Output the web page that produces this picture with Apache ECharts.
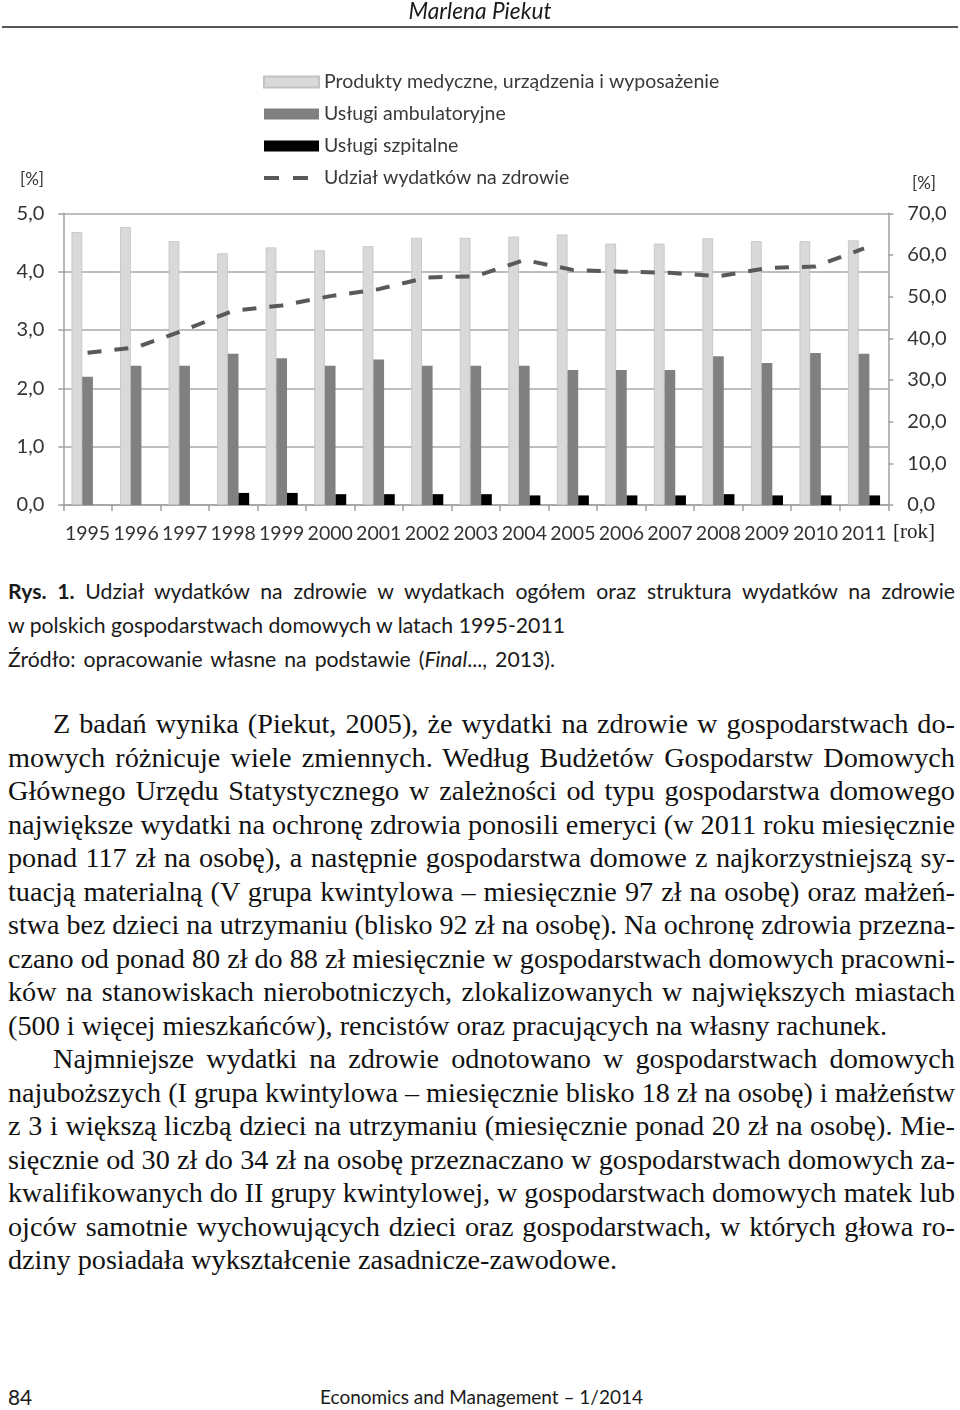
<!DOCTYPE html>
<html>
<head>
<meta charset="utf-8">
<script src="https://cdn.jsdelivr.net/npm/echarts@6/dist/echarts.min.js"></script>
<style>
  html, body { margin: 0; padding: 0; background: #fff; }
  #page { position: relative; width: 960px; height: 1410px; overflow: hidden; background: #fff; }
  #chart { position: absolute; left: 0; top: 0; width: 960px; height: 560px; z-index: 1; }
  .ln { position: absolute; white-space: nowrap; color: #1a1a1a; z-index: 2; }
  .cap { font-family: Lato, "Open Sans", sans-serif; color: #1a1a1a; }
  .body { font-family: "Liberation Serif", "DejaVu Serif", serif; color: #111; }
  .m { display: inline-block; white-space: nowrap; transform-origin: 0 50%; }
</style>
</head>
<body>
<div id="page">
  <div id="chart"></div>
  <div class="ln cap" id="hdr" style="left:0;width:960px;top:0;height:22px;line-height:22px;text-align:center;font-style:italic;"><span class="m" id="hdrs">Marlena Piekut</span></div>
  <div style="position:absolute;left:2px;top:26px;width:956px;height:2px;background:#555;z-index:2;"></div>

  <div class="ln cap" style="left:8px;top:1384px;height:26px;line-height:26px;"><span class="m" id="pg">84</span></div>
  <div class="ln cap" style="left:320px;top:1384px;height:26px;line-height:26px;"><span class="m" id="ft">Economics and Management – 1/2014</span></div>
</div>
<script>
// ---------- data ----------
const years = ['1995','1996','1997','1998','1999','2000','2001','2002','2003','2004','2005','2006','2007','2008','2009','2010','2011'];
const products   = [65.5, 66.7, 63.3, 60.4, 61.8, 61.1, 62.1, 64.1, 64.1, 64.4, 64.9, 62.7, 62.7, 64.0, 63.3, 63.3, 63.5];
const ambulatory = [30.8, 33.4, 33.4, 36.3, 35.2, 33.4, 34.9, 33.4, 33.4, 33.4, 32.4, 32.4, 32.4, 35.7, 34.1, 36.5, 36.3];
const hospital   = [null, null, null, 2.9, 2.9, 2.6, 2.6, 2.6, 2.6, 2.3, 2.3, 2.3, 2.3, 2.6, 2.3, 2.3, 2.3];
const share      = [2.61, 2.70, 3.00, 3.33, 3.42, 3.58, 3.70, 3.90, 3.92, 4.20, 4.03, 4.00, 3.98, 3.92, 4.06, 4.09, 4.40];
const seriesNames = ['Produkty medyczne, urządzenia i wyposażenie', 'Usługi ambulatoryjne', 'Usługi szpitalne', 'Udział wydatków na zdrowie'];
const leftTicks = { min: 0, max: 5, interval: 1 };
const rightTicks = { min: 0, max: 70, interval: 10 };

const captionLines = [
  { html: '<b>Rys. 1.</b> Udział wydatków na zdrowie w wydatkach ogółem oraz struktura wydatków na zdrowie', w: 947 },
  { html: 'w polskich gospodarstwach domowych w latach 1995-2011', w: 557 },
  { html: 'Źródło: opracowanie własne na podstawie (<i>Final</i>..., 2013).', w: 547 }
];
const bodyLines = [
  { t: 'Z badań wynika (Piekut, 2005), że wydatki na zdrowie w gospodarstwach do-', indent: true },
  { t: 'mowych różnicuje wiele zmiennych. Według Budżetów Gospodarstw Domowych' },
  { t: 'Głównego Urzędu Statystycznego w zależności od typu gospodarstwa domowego' },
  { t: 'największe wydatki na ochronę zdrowia ponosili emeryci (w 2011 roku miesięcznie' },
  { t: 'ponad 117 zł na osobę), a następnie gospodarstwa domowe z najkorzystniejszą sy-' },
  { t: 'tuacją materialną (V grupa kwintylowa – miesięcznie 97 zł na osobę) oraz małżeń-' },
  { t: 'stwa bez dzieci na utrzymaniu (blisko 92 zł na osobę). Na ochronę zdrowia przezna-' },
  { t: 'czano od ponad 80 zł do 88 zł miesięcznie w gospodarstwach domowych pracowni-' },
  { t: 'ków na stanowiskach nierobotniczych, zlokalizowanych w największych miastach' },
  { t: '(500 i więcej mieszkańców), rencistów oraz pracujących na własny rachunek.', w: 879 },
  { t: 'Najmniejsze wydatki na zdrowie odnotowano w gospodarstwach domowych', indent: true },
  { t: 'najuboższych (I grupa kwintylowa – miesięcznie blisko 18 zł na osobę) i małżeństw' },
  { t: 'z 3 i większą liczbą dzieci na utrzymaniu (miesięcznie ponad 20 zł na osobę). Mie-' },
  { t: 'sięcznie od 30 zł do 34 zł na osobę przeznaczano w gospodarstwach domowych za-' },
  { t: 'kwalifikowanych do II grupy kwintylowej, w gospodarstwach domowych matek lub' },
  { t: 'ojców samotnie wychowujących dzieci oraz gospodarstwach, w których głowa ro-' },
  { t: 'dziny posiadała wykształcenie zasadnicze-zawodowe.', w: 609 }
];

// ---------- text layout ----------
function fitLine(span, target) {
  span.style.wordSpacing = '';
  span.style.transform = '';
  const w = span.getBoundingClientRect().width;
  const n = (span.textContent.match(/ /g) || []).length;
  if (w < target && n > 0) {
    span.style.wordSpacing = ((target - w) / n) + 'px';
  } else if (w > target) {
    span.style.transform = 'scaleX(' + (target / w) + ')';
  }
}
function fitSize(el, target, base) {
  el.style.fontSize = base + 'px';
  const w = el.getBoundingClientRect().width;
  return base * target / w;
}
(function buildText() {
  const page = document.getElementById('page');
  // caption
  const capTop = 574, capLH = 34;
  const capSpans = captionLines.map((l, i) => {
    const d = document.createElement('div');
    d.className = 'ln cap';
    d.style.left = '8px';
    d.style.top = (capTop + i * capLH) + 'px';
    d.style.lineHeight = capLH + 'px';
    d.style.height = capLH + 'px';
    d.innerHTML = '<span class="m">' + l.html + '</span>';
    page.appendChild(d);
    return d.querySelector('.m');
  });
  const capSize = fitSize(capSpans[1], 557, 20);
  capSpans.forEach(s => s.style.fontSize = capSize + 'px');
  capSpans.forEach((s, i) => fitLine(s, captionLines[i].w));

  // body
  const bTop = 707.25, bLH = 33.5;
  const bSpans = bodyLines.map((l, i) => {
    const d = document.createElement('div');
    d.className = 'ln body';
    const left = l.indent ? 53 : 8;
    d.style.left = left + 'px';
    d.style.top = (bTop + i * bLH) + 'px';
    d.style.lineHeight = bLH + 'px';
    d.style.height = bLH + 'px';
    d.innerHTML = '<span class="m">' + l.t + '</span>';
    page.appendChild(d);
    return { s: d.querySelector('.m'), target: l.w || (955 - left) };
  });
  const bSize = fitSize(bSpans[9].s, 879, 25);
  bSpans.forEach(o => { o.s.style.fontSize = bSize + 'px'; });
  bSpans.forEach(o => fitLine(o.s, o.target));

  // header / footer
  const h = document.getElementById('hdrs'); h.style.fontSize = fitSize(h, 143, 20) + 'px';
  const f = document.getElementById('ft'); const fs = fitSize(f, 323, 20); f.style.fontSize = fs + 'px';
  document.getElementById('pg').style.fontSize = (fs * 1.1) + 'px';
})();

// ---------- chart ----------
const fmt = v => v.toFixed(1).replace('.', ',');
const chart = echarts.init(document.getElementById('chart'), null, { renderer: 'canvas' });
const axisGray = '#a0a0a0';
const labelColor = '#333333';
const FONT = 'Lato, "Open Sans", sans-serif';
const dashIcon = 'path://M0,0 M55,11 M0,3.5 L15,3.5 L15,7.5 L0,7.5 Z M29,3.5 L44,3.5 L44,7.5 L29,7.5 Z';

chart.setOption({
  animation: false,
  backgroundColor: 'transparent',
  textStyle: { fontFamily: FONT },
  grid: { left: 63.3, right: 71.7, top: 213.3, height: 291.7, containLabel: false },
  legend: {
    orient: 'vertical',
    left: 258,
    top: 67,
    itemWidth: 55,
    itemHeight: 11,
    itemGap: 12,
    selectedMode: false,
    textStyle: { fontFamily: FONT, fontSize: 19.5, color: '#3a3a3a', lineHeight: 20 },
    data: [
      { name: seriesNames[0], icon: 'rect' },
      { name: seriesNames[1], icon: 'rect' },
      { name: seriesNames[2], icon: 'rect' },
      { name: seriesNames[3], icon: dashIcon, itemStyle: { color: '#595959' } }
    ]
  },
  xAxis: {
    type: 'category',
    data: years,
    boundaryGap: true,
    axisLine: { show: true, lineStyle: { color: axisGray, width: 1.5 } },
    axisTick: { show: true, length: 6, lineStyle: { color: axisGray, width: 1.5 } },
    axisLabel: { interval: 0, margin: 19, fontFamily: FONT, fontSize: 19.5, color: labelColor },
    splitLine: { show: false }
  },
  yAxis: [
    {
      type: 'value', position: 'left',
      min: leftTicks.min, max: leftTicks.max, interval: leftTicks.interval,
      axisLine: { show: true, lineStyle: { color: axisGray, width: 1.5 } },
      axisTick: { show: true, length: 5, lineStyle: { color: axisGray, width: 1.5 } },
      axisLabel: { margin: 19, fontFamily: FONT, fontSize: 20, color: labelColor, formatter: fmt },
      splitLine: { show: true, lineStyle: { color: '#a8a8a8', width: 1.5 } }
    },
    {
      type: 'value', position: 'right',
      min: rightTicks.min, max: rightTicks.max, interval: rightTicks.interval,
      axisLine: { show: true, lineStyle: { color: axisGray, width: 1.5 } },
      axisTick: { show: true, length: 5, lineStyle: { color: axisGray, width: 1.5 } },
      axisLabel: { margin: 19, fontFamily: FONT, fontSize: 20, color: labelColor, formatter: fmt },
      splitLine: { show: false }
    }
  ],
  graphic: [
    { type: 'text', left: 20, top: 171, style: { text: '[%]', fontFamily: FONT, fontSize: 17, fill: labelColor } },
    { type: 'text', left: 912, top: 175, style: { text: '[%]', fontFamily: FONT, fontSize: 17, fill: labelColor } },
    { type: 'text', left: 893, top: 522, style: { text: '[rok]', fontFamily: '"Liberation Serif", serif', fontSize: 21, fill: '#222' } }
  ],
  series: [
    {
      name: seriesNames[0], type: 'bar', yAxisIndex: 1, data: products,
      barGap: '0%', barCategoryGap: '34%',
      itemStyle: { color: '#d9d9d9', borderColor: '#c2c2c2', borderWidth: 0.8 }
    },
    {
      name: seriesNames[1], type: 'bar', yAxisIndex: 1, data: ambulatory,
      barGap: '0%', barCategoryGap: '34%',
      itemStyle: { color: '#808080' }
    },
    {
      name: seriesNames[2], type: 'bar', yAxisIndex: 1, data: hospital,
      barGap: '0%', barCategoryGap: '34%',
      itemStyle: { color: '#000000' }
    },
    {
      name: seriesNames[3], type: 'line', yAxisIndex: 0, data: share,
      symbol: 'none', smooth: false, z: 5,
      lineStyle: { color: '#595959', width: 4, type: [14, 13], cap: 'butt' },
      itemStyle: { color: '#595959' }
    }
  ]
});
</script>
</body>
</html>
